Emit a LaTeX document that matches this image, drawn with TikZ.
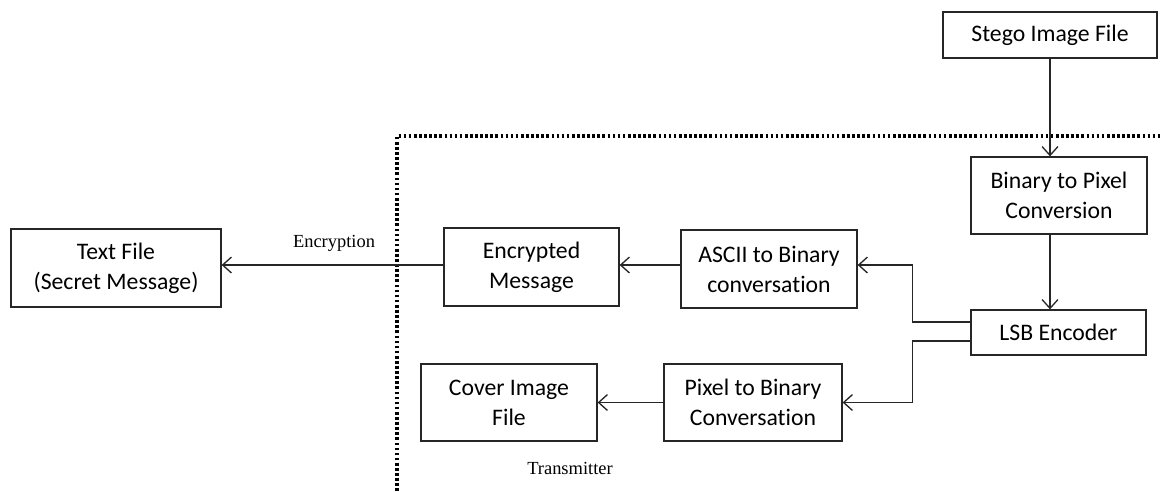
\documentclass[tikz,border=0pt]{standalone}
\usepackage{fontspec}
\setmainfont{Carlito}[Ligatures=NoCommon]
\newfontfamily\labelfont{Liberation Serif}
\usetikzlibrary{arrows.meta}
\begin{document}
\begin{tikzpicture}[x=0.02cm,y=-0.02cm,
  box/.style={draw=black!85,line width=0.75pt,rectangle,align=center,inner sep=0pt,
    font=\fontsize{13.5}{17}\selectfont},
  arr/.style={draw=black!85,line width=0.75pt,-{Straight Barb[length=5pt,width=9pt,line width=0.75pt]}},
  dotline/.style={draw=black,line width=2.1pt,dash pattern=on 1.5pt off 1.4pt},
  lbl/.style={font=\labelfont\fontsize{10.5}{12}\selectfont}]
\useasboundingbox (0,0) rectangle (1161,491);
\fill[white] (0,0) rectangle (1161,491);

\node[box,minimum width=4.28cm,minimum height=0.92cm] (stego) at (1050,35) {Stego Image File};
\node[box,minimum width=3.52cm,minimum height=1.54cm] (b2p) at (1059,195.5) {Binary to Pixel\\Conversion};
\node[box,minimum width=3.5cm,minimum height=0.9cm] (lsb) at (1058.5,332.5) {LSB Encoder};
\node[box,minimum width=3.52cm,minimum height=1.56cm] (ascii) at (769,269) {ASCII to Binary\\conversation};
\node[box,minimum width=3.5cm,minimum height=1.56cm] (enc) at (531.5,267) {Encrypted\\Message};
\node[box,minimum width=4.2cm,minimum height=1.56cm] (text) at (116,268) {Text File\\(Secret Message)};
\node[box,minimum width=3.52cm,minimum height=1.54cm] (cover) at (509,402.5) {Cover Image\\File};
\node[box,minimum width=3.56cm,minimum height=1.54cm] (p2b) at (753,402.5) {Pixel to Binary\\Conversation};

\node[lbl] (encl) at (334,243) {Encryption};
\node[lbl] (trl) at (570,468) {Transmitter};

\coordinate (dA) at (397,491);
\coordinate (dB) at (397,136);
\coordinate (dC) at (1161,136);
\draw[dotline] (dA) -- (dB) -- (dC);

\draw[arr] (stego.south) -- (stego.south |- b2p.north);
\draw[arr] (b2p.south -| stego.south) -- (stego.south |- lsb.north);
\draw[arr] ([yshift=0.21cm]lsb.west) -- ++(-58,0) |- ([yshift=0.08cm]ascii.east);
\draw[arr] ([yshift=-0.17cm]lsb.west) -- ++(-58,0) |- (p2b.east);
\draw[arr] ([yshift=0.08cm]ascii.west) -- ([yshift=0.08cm]ascii.west -| enc.east);
\draw[arr] ([yshift=0.04cm]enc.west) -- ([yshift=0.04cm]enc.west -| text.east);
\draw[arr] (p2b.west) -- (cover.east);
\end{tikzpicture}
\end{document}
